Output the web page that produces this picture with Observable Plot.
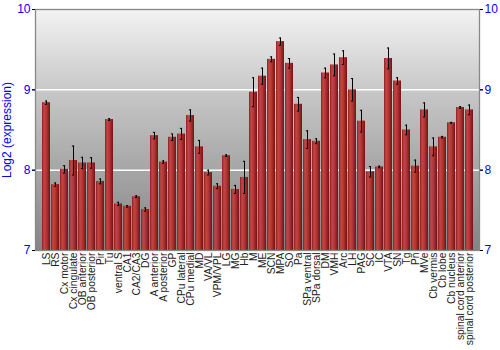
<!DOCTYPE html>
<html><head><meta charset="utf-8">
<script src="https://cdn.jsdelivr.net/npm/d3@7"></script>
<script src="https://cdn.jsdelivr.net/npm/@observablehq/plot@0.6"></script>
<style>
body{margin:0;background:#fff;font-family:"Liberation Sans",Arial,sans-serif}
#chart svg{display:block}
</style>
</head><body>
<svg width="0" height="0" style="position:absolute"><defs>
<linearGradient id="bgGrad" x1="0" y1="0" x2="0" y2="1">
<stop offset="0" stop-color="#f3f3f3"/><stop offset="0.35" stop-color="#c6c6c6"/><stop offset="1" stop-color="#848484"/>
</linearGradient>
<linearGradient id="barGrad" x1="0" y1="0" x2="1" y2="0">
<stop offset="0" stop-color="#8c2020"/><stop offset="0.25" stop-color="#c34646"/><stop offset="0.55" stop-color="#b53535"/><stop offset="1" stop-color="#6e1515"/>
</linearGradient>
</defs></svg>
<div id="chart"></div>
<script>
const regions = ["LS","RS","Cx motor","Cx cingulate","OB anterior","OB posterior","Pir","Tu","ventral S","CA1","CA2/CA3","DG","A anterior","A posterior","GP","CPu lateral","CPu medial","MD","VA/VL","VPM/VPL","LG","MG","Hb","M","ME","SCN","MPA","SO","Pa","SPa ventral","SPa dorsal","DM","VMH","Arc","LH","PAG","SC","IC","VTA","SN","Tg","Pn","MVe","Cb vermis","Cb lobe","Cb nucleus","spinal cord anterior","spinal cord posterior"];
const expression = [8.84,7.82,8.01,8.12,8.09,8.09,7.86,8.63,7.58,7.55,7.67,7.51,8.43,8.10,8.41,8.45,8.68,8.29,7.97,7.80,8.18,7.76,7.91,8.97,9.17,9.38,9.60,9.33,8.82,8.38,8.36,9.21,9.31,9.40,9.00,8.61,7.98,8.04,9.39,9.11,8.50,8.05,8.75,8.29,8.41,8.59,8.78,8.75];
const stdError = [0.02,0.02,0.045,0.18,0.07,0.065,0.03,0.01,0.02,0.01,0.01,0.02,0.04,0.015,0.04,0.07,0.07,0.08,0.03,0.03,0.01,0.05,0.2,0.18,0.1,0.03,0.045,0.06,0.085,0.11,0.03,0.06,0.135,0.085,0.14,0.135,0.065,0.01,0.13,0.04,0.06,0.075,0.087,0.11,0.01,0.005,0.01,0.06];
const yTicks = [7,8,9,10];
const gridValues = [8,9];
const yFloor = 7;

const data = regions.map((r,i)=>({region:r, value:expression[i], lo:expression[i]-stdError[i], hi:expression[i]+stdError[i]}));

const chart = Plot.plot({
  width: 500, height: 350,
  marginLeft: 35, marginRight: 21, marginTop: 9, marginBottom: 100,
  style: {fontFamily: '"Liberation Sans", Arial, sans-serif', background: "white"},
  x: {domain: regions, padding: 0.14, label: null},
  y: {domain: [7,10], label: null},
  marks: [
    Plot.frame({fill: "url(#bgGrad)"}),
    Plot.gridY(gridValues, {stroke: "white", strokeOpacity: 1, strokeWidth: 1.5}),
    Plot.barY(data, {x: "region", y1: () => yFloor, y2: "value", fill: "url(#barGrad)"}),
    Plot.ruleX(data, {x: "region", y1: "lo", y2: "hi", stroke: "black", strokeWidth: 1}),
    Plot.tickY(data, {x: "region", y: "lo", stroke: "black", insetLeft: 2.9, insetRight: 2.9}),
    Plot.tickY(data, {x: "region", y: "hi", stroke: "black", insetLeft: 2.9, insetRight: 2.9}),
    Plot.frame({stroke: "#888", strokeWidth: 1.3}),
    Plot.axisY({anchor: "left", ticks: yTicks, tickFormat: "d", tickSize: 3, tickPadding: 2, fontSize: 12, color: "blue", label: "Log2 (expression)", labelAnchor: "center", labelArrow: "none", labelOffset: 33}),
    Plot.axisY({anchor: "left", ticks: yTicks, tickSize: 3, text: null, stroke: "black", label: null}),
    Plot.axisY({anchor: "right", ticks: yTicks, tickFormat: "d", tickSize: 3, tickPadding: 2, fontSize: 12, color: "blue", label: null}),
    Plot.axisY({anchor: "right", ticks: yTicks, tickSize: 3, text: null, stroke: "black", label: null}),
    Plot.axisX({tickRotate: -90, tickSize: 0, tickPadding: 2, fontSize: 10.3, color: "#222", label: null})
  ]
});
document.getElementById("chart").appendChild(chart);
</script>
</body></html>
